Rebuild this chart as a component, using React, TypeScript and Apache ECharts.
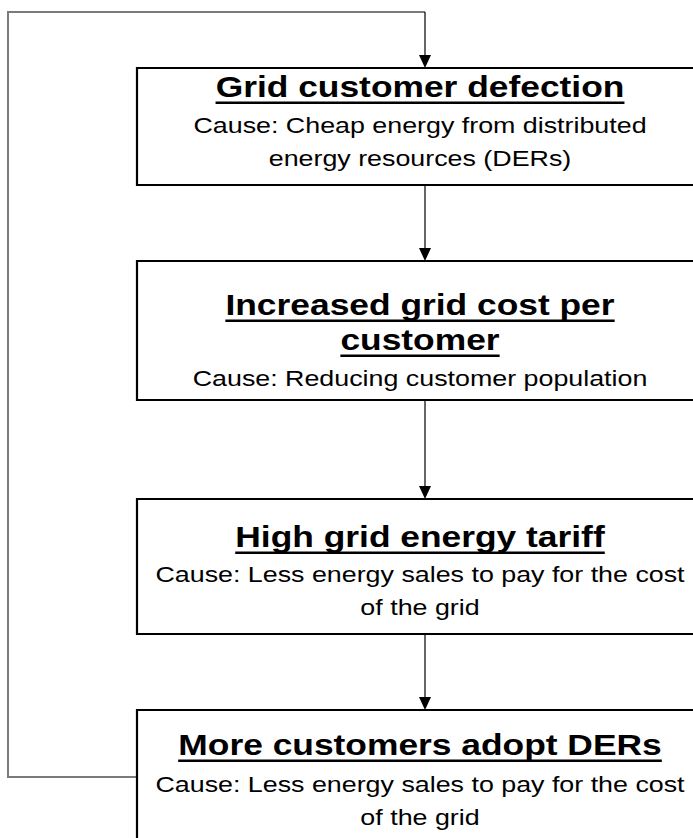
import React, { useEffect, useRef } from "react";
import * as echarts from "echarts";

// Diagram content
const titleLines: string[][] = [
  ["Grid customer defection"],
  ["Increased grid cost per", "customer"],
  ["High grid energy tariff"],
  ["More customers adopt DERs"],
];
const causeLines: string[][] = [
  ["Cause: Cheap energy from distributed", "energy resources (DERs)"],
  ["Cause: Reducing customer population"],
  ["Cause: Less energy sales to pay for the cost", "of the grid"],
  ["Cause: Less energy sales to pay for the cost", "of the grid"],
];

// Layout (pixels)
const BOX_LEFT = 137;
const BOX_WIDTH = 620;
const CENTER_X = 420;
const ARROW_X = 425;
const boxTops = [68, 261, 499, 710];
const boxBottoms = [185, 400, 634, 860];
const titleBaselines = [[97], [315, 350], [547], [755]];
const causeBaselines = [[133, 166], [386], [582, 615], [792, 825]];

const FONT_FAMILY = '"Liberation Sans", Arial, sans-serif';
const TITLE_SIZE = 29;
const CAUSE_SIZE = 22;
const STRETCH = 1.22;

function measure(text: string, font: string): number {
  const c = document.createElement("canvas");
  const ctx = c.getContext("2d");
  if (!ctx) return text.length * 14;
  ctx.font = font;
  return ctx.measureText(text).width;
}

function arrowHead(x: number, tipY: number): any {
  return {
    type: "polygon",
    shape: { points: [[x - 6, tipY - 13], [x + 6, tipY - 13], [x, tipY]] },
    style: { fill: "#000" },
    z: 10,
  };
}

export default function App() {
  const ref = useRef<HTMLDivElement>(null);
  useEffect(() => {
    if (!ref.current) return;
    const chart = echarts.init(ref.current, undefined, { renderer: "svg" });
    const elements: any[] = [];
    const titleFont = `bold ${TITLE_SIZE}px ${FONT_FAMILY}`;
    const causeFont = `${CAUSE_SIZE}px ${FONT_FAMILY}`;

    // feedback loop
    elements.push({
      type: "polyline",
      shape: { points: [[BOX_LEFT, 777], [8, 777], [8, 12], [ARROW_X, 12]] },
      style: { stroke: "#7a7a7a", lineWidth: 2, fill: "none" },
      z: 1,
    });
    elements.push({
      type: "line",
      shape: { x1: ARROW_X, y1: 12, x2: ARROW_X, y2: boxTops[0] - 10 },
      style: { stroke: "#000", lineWidth: 1.2 },
      z: 2,
    });
    elements.push(arrowHead(ARROW_X, boxTops[0]));

    // connectors between boxes
    for (let i = 0; i < boxTops.length - 1; i++) {
      elements.push({
        type: "line",
        shape: { x1: ARROW_X, y1: boxBottoms[i], x2: ARROW_X, y2: boxTops[i + 1] - 10 },
        style: { stroke: "#000", lineWidth: 1.2 },
        z: 2,
      });
      elements.push(arrowHead(ARROW_X, boxTops[i + 1]));
    }

    // boxes
    boxTops.forEach((top, i) => {
      elements.push({
        type: "rect",
        shape: { x: BOX_LEFT, y: top, width: BOX_WIDTH, height: boxBottoms[i] - top },
        style: { fill: "#fff", stroke: "#000", lineWidth: 2.2 },
        z: 3,
      });
      titleLines[i].forEach((t, j) => {
        const base = titleBaselines[i][j];
        elements.push({
          type: "text",
          x: CENTER_X,
          y: base - 0.3465 * TITLE_SIZE,
          scaleX: STRETCH,
          style: {
            text: t,
            font: titleFont,
            fill: "#000",
            textAlign: "center",
            textVerticalAlign: "middle",
          },
          z: 5,
        });
        const w = measure(t, titleFont) * STRETCH;
        elements.push({
          type: "rect",
          shape: { x: CENTER_X - w / 2, y: base + 4.5, width: w, height: 2.4 },
          style: { fill: "#000" },
          z: 5,
        });
      });
      causeLines[i].forEach((t, j) => {
        const base = causeBaselines[i][j];
        elements.push({
          type: "text",
          x: CENTER_X,
          y: base - 0.3465 * CAUSE_SIZE,
          scaleX: STRETCH,
          style: {
            text: t,
            font: causeFont,
            fill: "#000",
            textAlign: "center",
            textVerticalAlign: "middle",
          },
          z: 5,
        });
      });
    });

    chart.setOption({
      animation: false,
      backgroundColor: "#fff",
      graphic: { elements },
    });
    return () => chart.dispose();
  }, []);
  return (
    <div
      ref={ref}
      style={{ position: "fixed", left: 0, top: 0, width: 693, height: 838, background: "#fff" }}
    />
  );
}
